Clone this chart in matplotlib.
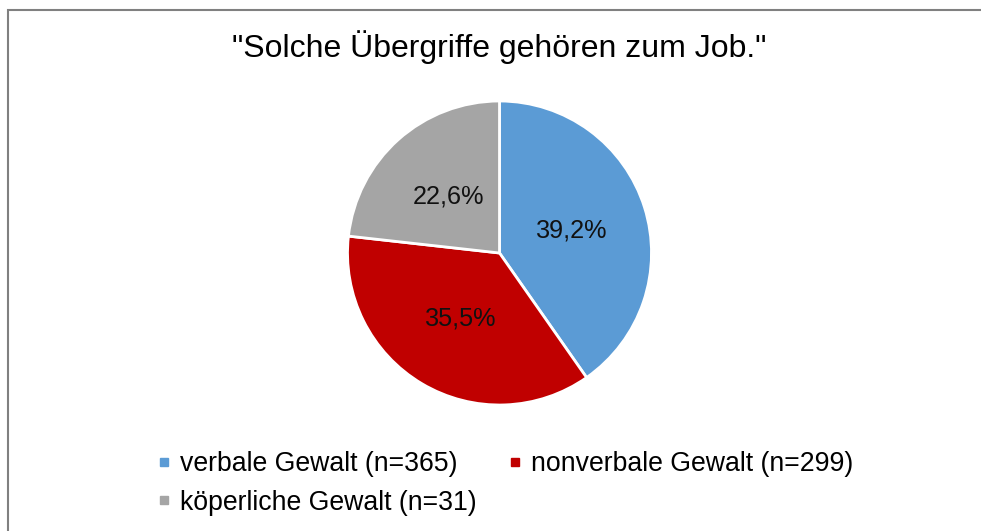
import matplotlib
matplotlib.use("Agg")
import matplotlib.pyplot as plt
from matplotlib.lines import Line2D
from matplotlib.patches import Rectangle

plt.rcParams["font.family"] = ["Liberation Sans", "DejaVu Sans"]

# data
kategorien = ["verbale Gewalt (n=365)", "nonverbale Gewalt (n=299)", "köperliche Gewalt (n=31)"]
anteile = [39.2, 35.5, 22.6]
anteil_labels = ["39,2%", "35,5%", "22,6%"]
farben = ["#5B9BD5", "#C00000", "#A5A5A5"]
titel = '"Solche Übergriffe gehören zum Job."'

fig = plt.figure(figsize=(9.81, 5.31), dpi=100)

# chart border (only top and left visible, rest cut off)
fig.patches.append(Rectangle((7.5 / 981, -0.1), 1.2, 1 - 9.5 / 531 + 0.1,
                             transform=fig.transFigure, fill=False,
                             edgecolor="#808080", linewidth=1.5))

ax = fig.add_axes([347.5 / 981, 126 / 531, 304 / 981, 304 / 531])
wedges, texts = ax.pie(anteile, colors=farben, startangle=90, counterclock=False,
                       labels=anteil_labels, labeldistance=0.5,
                       wedgeprops=dict(edgecolor="white", linewidth=2),
                       textprops=dict(fontsize=18.2, color="#111111"))
for t in texts:
    t.set_ha("center")
    t.set_va("center")
ax.set_xlim(-1, 1)
ax.set_ylim(-1, 1)
ax.set_aspect("equal")

fig.text(499 / 981, 1 - 47 / 531, titel, ha="center", va="center", fontsize=23)

# legend, row-wise order
handles = [Line2D([], [], marker="s", linestyle="none", markersize=6,
                  markerfacecolor=c, markeredgecolor=c) for c in farben]
order = [0, 2, 1]
fig.legend([handles[i] for i in order], [kategorien[i] for i in order],
           ncol=2, loc="upper left", bbox_to_anchor=(157 / 981, 1 - 451 / 531),
           frameon=False, fontsize=19.2, handlelength=0.5, handletextpad=0.35,
           labelspacing=0.48, columnspacing=1.2, borderpad=0, borderaxespad=0)

fig.savefig("out.png", dpi=100)
